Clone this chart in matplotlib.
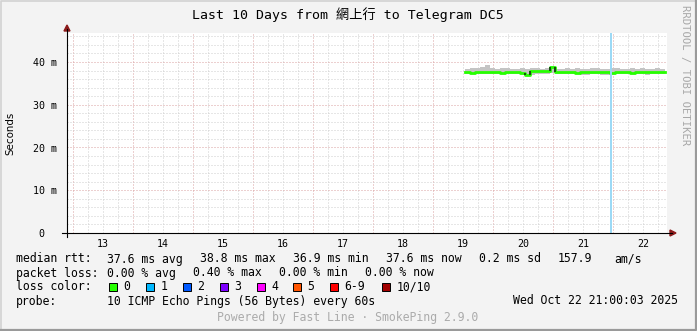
import numpy as np
import matplotlib
matplotlib.use("Agg")
import matplotlib.pyplot as plt
from matplotlib.patches import Rectangle, Polygon
from matplotlib.lines import Line2D

# --- data -------------------------------------------------------------
title = "Last 10 Days from 網上行 to Telegram DC5"
day_labels = [13, 14, 15, 16, 17, 18, 19, 20, 21, 22]
ytick_ms = [0, 10, 20, 30, 40]
ytick_labels = ["0  ", "10 m", "20 m", "30 m", "40 m"]

window_days = (12.9, 22.9)      # Oct 12 21:36 .. Oct 22 21:36
first_sample = 19.54            # day of month (fractional)
step_hours = 2

median_ms = [37.6, 37.5, 37.6, 37.6, 37.7, 37.6, 37.6, 37.5, 37.6, 37.6,
             37.6, 37.5, 36.9, 37.8, 37.9, 37.9, 37.8, 38.8, 37.6, 37.7,
             37.6, 37.6, 37.5, 37.6, 37.6, 37.6, 37.7, 37.6, 37.6, 37.5,
             37.6, 37.6, 37.6, 37.5, 37.6, 37.6, 37.7, 37.6, 37.6, 37.6,
             37.6]
smoke_hi_ms = [38.4, 38.6, 38.5, 38.9, 39.2, 38.5, 38.4, 38.5, 38.6, 38.4,
               38.3, 38.5, 38.4, 38.5, 38.6, 38.4, 38.7, 39.1, 38.4, 38.3,
               38.5, 38.4, 38.6, 38.3, 38.4, 38.6, 38.5, 38.3, 38.4, 38.6,
               38.5, 38.3, 38.4, 38.5, 38.3, 38.6, 38.4, 38.3, 38.5, 38.4,
               38.3]
smoke_lo_ms = [37.2, 37.2, 37.1, 37.2, 37.2, 37.3, 37.2, 37.1, 37.2, 37.2,
               37.2, 37.1, 36.7, 37.0, 37.3, 37.3, 37.2, 37.4, 37.2, 37.2,
               37.3, 37.2, 37.2, 37.0, 36.9, 37.2, 37.2, 36.9, 37.0, 37.2,
               37.1, 37.2, 37.2, 37.1, 37.2, 37.2, 36.9, 37.1, 37.2, 37.2,
               37.2]
unknown_at = 21.96

rtt_stats = ["37.6 ms avg", "38.8 ms max", "36.9 ms min", "37.6 ms now",
             "0.2 ms sd", "157.9", "am/s"]
loss_stats = ["0.00 % avg", "0.40 % max", "0.00 % min", "0.00 % now"]
loss_labels = ["0", "1", "2", "3", "4", "5", "6-9", "10/10"]
loss_colors = ["#26ff00", "#00b8ff", "#0059ff", "#7e00ff",
               "#ff00ff", "#ff5500", "#ff0000", "#a00000"]
probe_text = "10 ICMP Echo Pings (56 Bytes) every 60s"
timestamp = "Wed Oct 22 21:00:03 2025"
footer = "Powered by Fast Line · SmokePing 2.9.0"

# --- layout -----------------------------------------------------------
W, H = 697, 331
L, R, T, B = 67, 667, 33, 233
MONO = ["DejaVu Sans Mono", "Noto Sans CJK TC"]
FS = 8.3


def fx(x):
    return x / W


def fy(y):
    return 1 - y / H


fig = plt.figure(figsize=(W / 100, H / 100), dpi=100, facecolor="#f3f3f3")
ax = fig.add_axes([fx(L), fy(B), (R - L) / W, (B - T) / H])
ax.set_facecolor("white")
for s in ax.spines.values():
    s.set_visible(False)

ymax = (B - T) / ((B - 62) / 40.0) / 1000.0
ax.set_xlim(*window_days)
ax.set_ylim(0, ymax)

# grid
dots = (0, (1, 2))
for d in np.arange(13, 23, 0.25):
    major = abs(d - round(d)) < 1e-6
    ax.axvline(d, color="#dba3a3" if major else "#cfcfcf", lw=0.72,
               ls=dots, zorder=1)
for v in np.arange(0.002, ymax, 0.002):
    major = abs(v * 100 - round(v * 100)) < 1e-6
    ax.axhline(v, color="#dba3a3" if major else "#cfcfcf", lw=0.72,
               ls=dots, zorder=1)

# data
t = first_sample + np.arange(len(median_ms)) * step_hours / 24.0
med = np.array(median_ms) / 1000
lo = np.array(smoke_lo_ms) / 1000
hi = np.array(smoke_hi_ms) / 1000
ax.fill_between(t, lo, hi, step="post", color="#c4c4c4", lw=0, zorder=2)
ax.step(t, med, where="post", color=loss_colors[0], lw=2.0, zorder=3)
jumps = np.where(np.abs(np.diff(med)) > 0.0005)[0] + 1
ax.vlines(t[jumps], med[jumps - 1], med[jumps], color="#123012", lw=1.2,
          zorder=4)
ax.axvline(unknown_at, color="#9ad8f5", lw=1.4, zorder=5)

# ticks
ax.set_xticks([d + 0.5 for d in day_labels])
ax.set_xticklabels([str(d) for d in day_labels], family=MONO, fontsize=7.2)
ax.set_yticks([v / 1000 for v in ytick_ms])
ax.set_yticklabels(ytick_labels, family=MONO, fontsize=7.2)
ax.tick_params(length=0, pad=4)
ax.tick_params(axis="y", pad=7)

# axes lines with arrows
fig.add_artist(Line2D([fx(L), fx(L)], [fy(B + 4), fy(T - 4)],
                      color="black", lw=0.8, transform=fig.transFigure))
fig.add_artist(Line2D([fx(L - 5), fx(R + 5)], [fy(B), fy(B)],
                      color="black", lw=0.8, transform=fig.transFigure))
fig.add_artist(Polygon([[fx(L - 3), fy(T - 2)], [fx(L + 3), fy(T - 2)],
                        [fx(L), fy(T - 8)]], closed=True, color="#8b1a1a",
                       transform=fig.transFigure))
fig.add_artist(Polygon([[fx(R + 3), fy(B - 3)], [fx(R + 3), fy(B + 3)],
                        [fx(R + 9), fy(B)]], closed=True, color="#8b1a1a",
                       transform=fig.transFigure))

# titles
fig.text(fx(348), fy(15), title, family=MONO, fontsize=9.5,
         ha="center", va="center")
fig.text(fx(10), fy(133), "Seconds", family="DejaVu Sans", fontsize=7.4,
         rotation=90, ha="center", va="center")
fig.text(fx(685), fy(5), "RRDTOOL / TOBI OETIKER", family=MONO, fontsize=7.6,
         color="#a8a8a8", rotation=270, ha="center", va="top")

# legend
rows = [259, 273, 287, 301]
fig.text(fx(16), fy(rows[0]), "median rtt:", family=MONO, fontsize=FS,
         va="center")
for s, x in zip(rtt_stats, [107, 200, 293, 386, 479, 558, 614]):
    fig.text(fx(x), fy(rows[0]), s, family=MONO, fontsize=FS, va="center")
fig.text(fx(16), fy(rows[1]), "packet loss:", family=MONO, fontsize=FS,
         va="center")
for s, x in zip(loss_stats, [107, 193, 279, 365]):
    fig.text(fx(x), fy(rows[1]), s, family=MONO, fontsize=FS, va="center")
fig.text(fx(16), fy(rows[2]), "loss color:", family=MONO, fontsize=FS,
         va="center")
for lab, col, x in zip(loss_labels, loss_colors,
                       [109, 146, 183, 220, 257, 293, 330, 382]):
    fig.add_artist(Rectangle((fx(x), fy(rows[2] + 4)), 8 / W, 8 / H,
                             facecolor=col, edgecolor="black", lw=0.7,
                             transform=fig.transFigure))
    fig.text(fx(x + 14.5), fy(rows[2]), lab, family=MONO, fontsize=FS,
             va="center")
fig.text(fx(16), fy(rows[3]), "probe:", family=MONO, fontsize=FS,
         va="center")
fig.text(fx(107), fy(rows[3]), probe_text, family=MONO, fontsize=FS,
         va="center")
fig.text(fx(513), fy(rows[3]), timestamp, family=MONO, fontsize=FS,
         va="center")
fig.text(fx(348), fy(318), footer, family=MONO, fontsize=FS,
         color="#ababab", ha="center", va="center")

# frame: light top/left, darker bottom/right
fig.add_artist(Line2D([0.5 / W, 0.5 / W, 1], [0, 1 - 0.5 / H, 1 - 0.5 / H],
                      color="#d2d2d2", lw=1.2, transform=fig.transFigure))
fig.add_artist(Line2D([0, 1 - 1 / W, 1 - 1 / W], [1 / H, 1 / H, 1],
                      color="#9a9a9a", lw=1.6, transform=fig.transFigure))

fig.savefig("out.png", dpi=100, facecolor=fig.get_facecolor())
